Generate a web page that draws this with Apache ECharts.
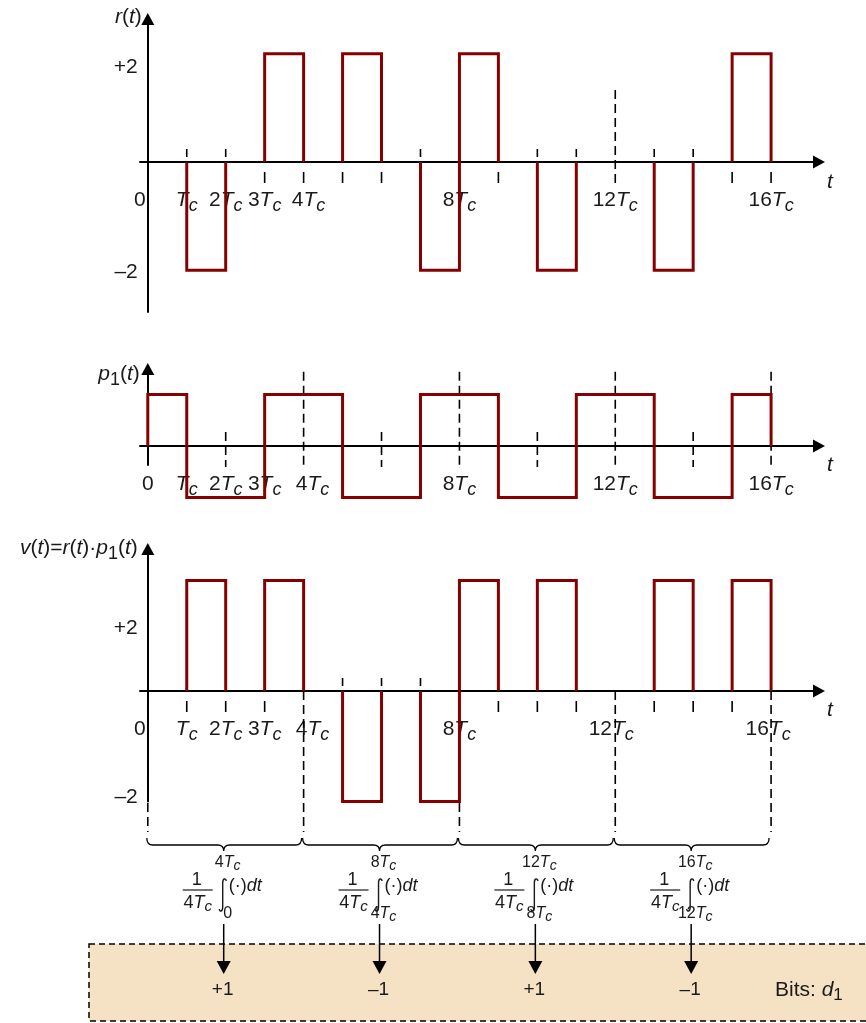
<!DOCTYPE html>
<html lang="en">
<head>
<meta charset="UTF-8">
<title>Despreading of r(t) with p1(t)</title>
<script src="https://cdn.jsdelivr.net/npm/echarts@6.0.0/dist/echarts.min.js"></script>
<style>
  html, body { margin: 0; padding: 0; background: #fff; }
  #main { width: 866px; height: 1023px; }
</style>
</head>
<body>
<div id="main"></div>
<script>
// one value per chip (Tc), chips 0..15
const rChips  = [0, -2, 0, 2, 0, 2, 0, -2, 2, 0, -2, 0, 0, -2, 0, 2];
const p1Chips = [1, -1, -1, 1, 1, -1, -1, 1, 1, -1, -1, 1, 1, -1, -1, 1];
const vChips  = [0, 2, 0, 2, 0, -2, 0, -2, 2, 0, 2, 0, 0, 2, 0, 2];

// tick labels: time axes in multiples of Tc, level axes
const timeTicks = [0, 1, 2, 3, 4, 8, 12, 16];
const rLevelTicks = [-2, 2];
const vLevelTicks = [-2, 2];

// dashed guide marks (in Tc)
const rLongMarks = [12];
const p1LongMarks = [4, 8, 12, 16];
const p1ShortMarks = [2, 6, 10, 14];
const blockEdges = [0, 4, 8, 12, 16];

// integration blocks and the decided bits
const blockStart = [0, 4, 8, 12];
const blockEnd = [4, 8, 12, 16];
const bits = [1, -1, 1, -1];

const RED = '#850000', INK = '#1a1a1a';
const FONT = '"Liberation Sans", Arial, Helvetica, sans-serif';
const BASE = 21, SUB = 18;
const X_MIN = -0.2, X_MAX = 17.23, GRID_W = 679;

function tok(size, italic, pad) {
  return { fontSize: size, fontFamily: FONT, fontStyle: italic ? 'italic' : 'normal',
    color: INK, fill: INK, padding: pad || [0, 0, 0, 0] };
}

// outline of every run of non-zero chips, broken between runs
function pulseLine(chips) {
  const pts = [];
  let k = 0;
  while (k < chips.length) {
    if (chips[k] === 0) { k++; continue; }
    pts.push([k, 0]);
    while (k < chips.length && chips[k] !== 0) {
      pts.push([k, chips[k]], [k + 1, chips[k]]);
      k++;
    }
    pts.push([k, 0], ['-', '-']);
  }
  return pts;
}

// short dash next to the axis at each pulse edge, on the side away from the pulse
function edgeDashes(chips, up, down, skip) {
  const pts = [];
  for (let k = 1; k <= chips.length; k++) {
    if (skip.indexOf(k) >= 0) continue;
    const a = chips[k - 1], b = k < chips.length ? chips[k] : 0;
    if (a === b || a * b < 0) continue;
    const seg = (a || b) > 0 ? down : up;
    pts.push([k, seg[0]], [k, seg[1]], ['-', '-']);
  }
  return pts;
}

// horizontal nudges (px) of single time labels
const rNudge = { 0: -8, 4: 5 };
const p1Nudge = { 4: 9 };
const vNudge = { 0: -8, 4: 9, 12: -4, 16: -3 };

function timeLabels(nudge) {
  const rich = {}, text = {};
  timeTicks.forEach(function (v) {
    const toks = v === 0 ? [['z', '0']] : [['i', 'T'], ['s', 'c']];
    if (v > 1) toks.unshift(['n', String(v)]);
    const s = nudge[v] || 0;
    text[v] = toks.map(function (t, j) {
      const name = t[0];
      const pad = name === 's' ? [12, 0, 0, 0] : name === 'z' ? [5, 0, 0, 0] : [0, 0, 0, 0];
      let key = name;
      if (s > 0 && j === 0) { pad[3] = 2 * s; key = name + 'L' + v; }
      if (s < 0 && j === toks.length - 1) { pad[1] = -2 * s; key = name + 'R' + v; }
      rich[key] = tok(name === 's' ? SUB : BASE, name === 'i' || name === 's', pad);
      return '{' + key + '|' + t[1] + '}';
    }).join('');
  });
  return { customValues: timeTicks, margin: 23, formatter: function (v) { return text[v]; }, rich: rich };
}

// vertical shift (px, down) of the level labels
const rLevelShift = { 2: 13, '-2': 2 };
const vLevelShift = { 2: 48, '-2': -4 };

function levelLabels(ticks, shift) {
  const rich = {}, text = {};
  ticks.forEach(function (v) {
    const d = shift[v] || 0;
    const key = v > 0 ? 'p' : 'm';
    rich[key] = tok(BASE, false, d >= 0 ? [2 * d, 0, 0, 0] : [0, 0, -2 * d, 0]);
    text[v] = '{' + key + '|' + (v > 0 ? '+' : '\u2013') + Math.abs(v) + '}';
  });
  return { customValues: ticks, margin: 10, formatter: function (v) { return text[v]; }, rich: rich };
}

const axisLine = { onZero: false, lineStyle: { color: '#000', width: 2 },
  symbol: ['none', 'triangle'], symbolSize: [13, 12] };

// the time axis sits on the zero level of the plot's level axis
function timeAxis(i, yMin, yMax, height, nudge, namePad) {
  return {
    type: 'value', gridIndex: i, min: X_MIN, max: X_MAX,
    offset: -height * (0 - yMin) / (yMax - yMin),
    axisLine: axisLine, axisTick: { show: false }, splitLine: { show: false },
    axisLabel: timeLabels(nudge),
    name: '{t|t}', nameLocation: 'end', nameGap: 8,
    nameTextStyle: { align: 'left', verticalAlign: 'middle',
      rich: { t: tok(BASE, true, [namePad, 0, 0, 0]) } }
  };
}

const nameRich = { n: tok(BASE), i: tok(BASE, true), s: tok(SUB, false, [12, 0, 0, 0]) };

// the level axis sits at t = 0
function levelAxis(i, min, max, labels, name, gap, padRight) {
  return {
    type: 'value', gridIndex: i, min: min, max: max,
    offset: -GRID_W * (0 - X_MIN) / (X_MAX - X_MIN),
    axisLine: axisLine, axisTick: { show: false }, splitLine: { show: false },
    axisLabel: labels || { show: false },
    name: name, nameLocation: 'end', nameGap: gap,
    nameTextStyle: { align: 'right', verticalAlign: 'middle', padding: [0, padRight, 0, 0], rich: nameRich }
  };
}

function wave(i, data) {
  return { type: 'line', xAxisIndex: i, yAxisIndex: i, data: data, symbol: 'none',
    clip: false, z: 6, silent: true, lineStyle: { color: RED, width: 3, join: 'miter' } };
}

function ticksSeries(i, data) {
  return { type: 'line', xAxisIndex: i, yAxisIndex: i, data: data, symbol: 'none',
    clip: false, z: 4, silent: true, lineStyle: { color: '#000', width: 1.6 } };
}

// one series per dashed guide so every dash pattern starts at its top end
function dashSeries(i, list, top, bottom) {
  return list.map(function (k) {
    return { type: 'line', xAxisIndex: i, yAxisIndex: i, data: [[k, top], [k, bottom]], symbol: 'none',
      clip: false, z: 4, silent: true, lineStyle: { color: '#000', width: 1.6, type: [9, 5] } };
  });
}

const annRich = {
  n: tok(18), i: tok(18, true), s: tok(15, true, [8, 0, 0, 0]),
  ln: tok(16), li: tok(16, true), ls: tok(14, true, [7, 0, 0, 0]),
  b: tok(19)
};

function limitText(n) {
  return n === 0 ? '{ln|0}' : '{ln|' + n + '}{li|T}{ls|c}';
}

function annText(x, y, text, align) {
  return { type: 'text', x: x, y: y,
    style: { text: text, rich: annRich, align: align || 'center', verticalAlign: 'middle', fill: INK } };
}

function renderBlock(params, api) {
  const s = api.value(0), e = api.value(1), bit = api.value(2);
  const xa = api.coord([s, 0])[0], xb = api.coord([e, 0])[0];
  const y0 = api.coord([s, 0])[1];
  const cx = (xa + xb) / 2 - 2;
  const by = y0 + 13, a = xa - 1, b = xb - 2;
  const brace = 'M' + a + ' ' + (by - 7) + ' Q' + a + ' ' + by + ' ' + (a + 6) + ' ' + by +
    ' L' + (cx - 6) + ' ' + by + ' Q' + cx + ' ' + by + ' ' + cx + ' ' + (by + 6) +
    ' Q' + cx + ' ' + by + ' ' + (cx + 6) + ' ' + by +
    ' L' + (b - 6) + ' ' + by + ' Q' + b + ' ' + by + ' ' + b + ' ' + (by - 7);
  const ix = cx - 1, yt = y0 + 47, yb = y0 + 79;
  const integral = 'M' + (ix + 3.5) + ' ' + (yt + 2) + ' C' + (ix + 3) + ' ' + (yt - 1) + ' ' + ix + ' ' + (yt - 1) +
    ' ' + ix + ' ' + (yt + 4) + ' L' + ix + ' ' + (yb - 4) + ' C' + ix + ' ' + (yb + 1) + ' ' + (ix - 3) + ' ' +
    (yb + 1) + ' ' + (ix - 3.5) + ' ' + (yb - 2);
  return {
    type: 'group',
    children: [
      { type: 'path', shape: { pathData: brace }, style: { stroke: '#000', lineWidth: 1.3, fill: null } },
      annText(cx - 27, y0 + 48, '{n|1}'),
      { type: 'line', shape: { x1: cx - 41, y1: y0 + 58, x2: cx - 11, y2: y0 + 58 }, style: { stroke: INK, lineWidth: 1.2 } },
      annText(cx - 26, y0 + 71, '{n|4}{i|T}{s|c}'),
      { type: 'path', shape: { pathData: integral }, style: { stroke: INK, lineWidth: 1.4, fill: null } },
      annText(cx + 4, y0 + 31, limitText(e)),
      annText(cx + 4, y0 + 82, limitText(s)),
      annText(cx + 5, y0 + 54, '{n|(\u00b7)}{i|dt}', 'left'),
      { type: 'line', shape: { x1: cx, y1: y0 + 92, x2: cx, y2: y0 + 131 }, style: { stroke: '#000', lineWidth: 1.5 } },
      { type: 'polygon', shape: { points: [[cx - 7, y0 + 129], [cx + 7, y0 + 129], [cx, y0 + 142]] }, style: { fill: '#000' } },
      annText(cx - 1, y0 + 158, '{b|' + (bit > 0 ? '+' : '\u2013') + Math.abs(bit) + '}')
    ]
  };
}

const gridBase = { left: 140, width: GRID_W, containLabel: false, outerBoundsMode: 'none' };

// level ranges of the three plots (grid heights below)
const R_MIN = -2.770, R_MAX = 2.641, R_H = 293;
const P_MIN = -0.369, P_MAX = 1.495, P_H = 96;
const V_MIN = -2.0, V_MAX = 2.568, V_H = 252.6;

const option = {
  animation: false,
  backgroundColor: '#fff',
  grid: [
    Object.assign({ top: 19, height: R_H }, gridBase),
    Object.assign({ top: 369, height: P_H }, gridBase),
    Object.assign({ top: 549, height: V_H }, gridBase),
    Object.assign({ top: 832, height: 191 }, gridBase)
  ],
  xAxis: [
    timeAxis(0, R_MIN, R_MAX, R_H, rNudge, 40),
    timeAxis(1, P_MIN, P_MAX, P_H, p1Nudge, 38),
    timeAxis(2, V_MIN, V_MAX, V_H, vNudge, 38),
    { type: 'value', gridIndex: 3, min: X_MIN, max: X_MAX, show: false }
  ],
  yAxis: [
    levelAxis(0, R_MIN, R_MAX, levelLabels(rLevelTicks, rLevelShift), '{i|r}{n|(}{i|t}{n|)}', 2, 6),
    levelAxis(1, P_MIN, P_MAX, null, '{i|p}{s|1}{n|(}{i|t}{n|)}', -5, 8),
    levelAxis(2, V_MIN, V_MAX, levelLabels(vLevelTicks, vLevelShift),
      '{i|v}{n|(}{i|t}{n|)=}{i|r}{n|(}{i|t}{n|)\u00b7}{i|p}{s|1}{n|(}{i|t}{n|)}', 1, 10),
    { type: 'value', gridIndex: 3, min: 0, max: 191, inverse: true, show: false }
  ],
  graphic: {
    elements: [
      { type: 'rect', z: 0, shape: { x: 89, y: 944, width: 800, height: 77 },
        style: { fill: '#F5E1C3', stroke: '#000', lineWidth: 1.5, lineDash: [6, 4] } },
      { type: 'text', z: 1, x: 775, y: 990,
        style: { text: '{n|Bits: }{i|d}{s|1}', align: 'left', verticalAlign: 'middle',
          rich: { n: tok(21), i: tok(21, true), s: tok(17, false, [11, 0, 0, 0]) } } }
    ]
  },
  series: [].concat(
    [ticksSeries(0, edgeDashes(rChips, [0.092, 0.24], [-0.185, -0.388], []))],
    dashSeries(0, rLongMarks, 1.33, -0.43),
    [wave(0, pulseLine(rChips))],
    dashSeries(1, p1ShortMarks, 0.27, -0.41),
    dashSeries(1, p1LongMarks, 1.44, -0.41),
    [wave(1, pulseLine(p1Chips))],
    [ticksSeries(2, edgeDashes(vChips, [0.09, 0.235], [-0.18, -0.38], blockEdges))],
    dashSeries(2, blockEdges, 0, -2.55),
    [wave(2, pulseLine(vChips))],
    [{
      type: 'custom', xAxisIndex: 3, yAxisIndex: 3, z: 10, silent: true,
      data: blockStart.map(function (s, i) { return [s, blockEnd[i], bits[i]]; }),
      renderItem: renderBlock
    }]
  )
};

const chart = echarts.init(document.getElementById('main'));
chart.setOption(option);
</script>
</body>
</html>
